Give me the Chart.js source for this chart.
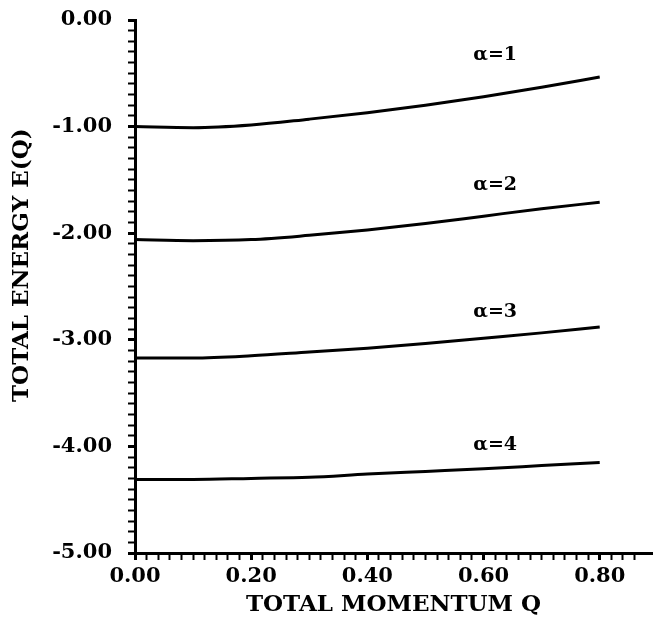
<!DOCTYPE html>
<html>
<head>
<meta charset="utf-8">
<script src="https://cdn.jsdelivr.net/npm/chart.js@4/dist/chart.umd.min.js"></script>
<style>
  html, body { margin: 0; padding: 0; background: #fff; }
  #wrap { width: 657px; height: 626px; position: relative; }
</style>
</head>
<body>
<div id="wrap"><canvas id="energia"></canvas></div>
<script>
// valores
var momento = [0.0, 0.1, 0.2, 0.3, 0.4, 0.5, 0.6, 0.7, 0.8];
var energia_a1 = [-1.00, -1.01, -0.985, -0.93, -0.87, -0.80, -0.72, -0.63, -0.535];
var energia_a2 = [-2.06, -2.07, -2.06, -2.02, -1.97, -1.91, -1.84, -1.77, -1.71];
var energia_a3 = [-3.17, -3.17, -3.15, -3.115, -3.08, -3.035, -2.985, -2.935, -2.88];
var energia_a4 = [-4.31, -4.31, -4.30, -4.29, -4.26, -4.235, -4.21, -4.18, -4.15];

var rotulos = ['\u03b1=1', '\u03b1=2', '\u03b1=3', '\u03b1=4'];
var rotulo_q = [0.62, 0.62, 0.62, 0.62];
var rotulo_e = [-0.33, -1.55, -2.74, -3.99];

var titulo_x = 'TOTAL MOMENTUM Q';
var titulo_y = 'TOTAL ENERGY E(Q)';

var fonte = 'DejaVu Serif';

function pontos(valores) {
    return momento.map(function (q, i) { return { x: q, y: valores[i] }; });
}

function serie(valores) {
    return {
        data: pontos(valores),
        borderColor: '#000',
        borderWidth: 3,
        pointRadius: 0,
        fill: false,
        cubicInterpolationMode: 'monotone'
    };
}

// rotulos alfa e titulo do eixo y
const rotulos_plugin = {
    id: 'rotulos_alfa',
    afterDatasetsDraw(chart) {
        const ctx = chart.ctx;
        const x = chart.scales.x;
        const y = chart.scales.y;
        ctx.save();
        ctx.fillStyle = '#000';
        ctx.font = 'bold 19px "' + fonte + '"';
        ctx.textAlign = 'center';
        ctx.textBaseline = 'middle';
        rotulos.forEach(function (txt, i) {
            ctx.fillText(txt, x.getPixelForValue(rotulo_q[i]), y.getPixelForValue(rotulo_e[i]));
        });
        ctx.restore();

        ctx.save();
        ctx.fillStyle = '#000';
        ctx.font = 'bold 23px "' + fonte + '"';
        ctx.textAlign = 'center';
        ctx.textBaseline = 'middle';
        ctx.translate(22, y.getPixelForValue(-2.3));
        ctx.rotate(-Math.PI / 2);
        ctx.fillText(titulo_y, 0, 0);
        ctx.restore();
    }
};

function eh_inteiro(v, passo) {
    var r = v / passo;
    return Math.abs(r - Math.round(r)) < 1e-6;
}

const grafico = document.getElementById('energia');

var myChart_energia = new Chart(grafico, {
    type: 'line',
    data: {
        datasets: [serie(energia_a1), serie(energia_a2), serie(energia_a3), serie(energia_a4)]
    },
    plugins: [rotulos_plugin],
    options: {
        responsive: true,
        maintainAspectRatio: false,
        animation: false,
        layout: { padding: { left: 0, top: 20, right: 5, bottom: 7 } },
        plugins: {
            legend: { display: false },
            tooltip: { enabled: false }
        },
        scales: {
            x: {
                type: 'linear',
                min: 0,
                max: 0.89,
                afterBuildTicks: function (scale) {
                    scale.ticks = scale.ticks.filter(function (t) { return eh_inteiro(t.value, 0.02); });
                },
                afterFit: function (scale) {
                    scale.height = 66;
                    scale.paddingLeft = 0;
                    scale.paddingRight = 0;
                },
                ticks: {
                    stepSize: 0.02,
                    autoSkip: false,
                    maxRotation: 0,
                    padding: 4,
                    color: '#000',
                    font: { family: fonte, size: 21, weight: 'bold' },
                    callback: function (v) { return eh_inteiro(v, 0.2) ? Number(v).toFixed(2) : ''; }
                },
                grid: {
                    drawOnChartArea: false,
                    tickLength: 7,
                    tickColor: '#000',
                    tickWidth: function (c) { return c.tick && eh_inteiro(c.tick.value, 0.2) ? 3 : 2; }
                },
                border: { display: true, color: '#000', width: 3 },
                title: {
                    display: true,
                    text: titulo_x,
                    color: '#000',
                    padding: { top: 0, bottom: 0 },
                    font: { family: fonte, size: 23, weight: 'bold' }
                }
            },
            y: {
                min: -5,
                max: 0,
                afterFit: function (scale) {
                    scale.width = 135;
                    scale.paddingTop = 0;
                    scale.paddingBottom = 0;
                },
                ticks: {
                    stepSize: 0.1,
                    autoSkip: false,
                    padding: 16,
                    color: '#000',
                    font: { family: fonte, size: 21, weight: 'bold' },
                    callback: function (v) { return eh_inteiro(v, 1) ? Number(v).toFixed(2) : ''; }
                },
                grid: {
                    drawOnChartArea: false,
                    tickLength: 7,
                    tickColor: '#000',
                    tickWidth: function (c) { return c.tick && eh_inteiro(c.tick.value, 1) ? 3 : 2; }
                },
                border: { display: true, color: '#000', width: 3 }
            }
        }
    }
});
</script>
</body>
</html>
